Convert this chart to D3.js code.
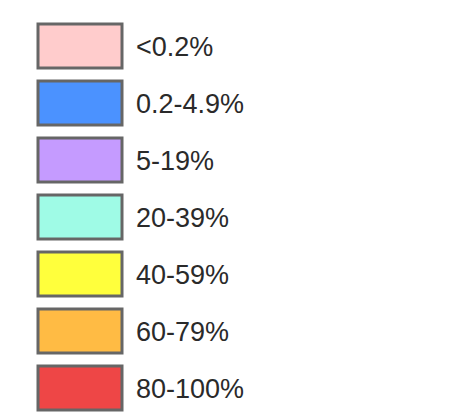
<!DOCTYPE html>
<html>
<head>
<meta charset="utf-8">
<script src="https://cdn.jsdelivr.net/npm/d3@7"></script>
<style>
  body { margin: 0; background: #fff; }
</style>
</head>
<body>
<div id="legend"></div>
<script>
const labels = ["<0.2%", "0.2-4.9%", "5-19%", "20-39%", "40-59%", "60-79%", "80-100%"];
const colors = ["#ffcccc", "#4b92ff", "#c59bff", "#9ffbe6", "#ffff3c", "#ffbb44", "#ee4646"];

const width = 465, height = 416;

const svg = d3.select("#legend").append("svg")
    .attr("width", width)
    .attr("height", height)
    .style("font", "27px Arial, 'Liberation Sans', sans-serif");

// rows 57px apart, boxes 44px tall, first at y=24
const y = d3.scaleBand()
    .domain(labels)
    .range([24, 24 + 57 * labels.length - 13])
    .paddingInner(13 / 57)
    .paddingOuter(0);

const color = d3.scaleOrdinal().domain(labels).range(colors);

const row = svg.selectAll("g")
    .data(labels)
    .join("g")
    .attr("transform", d => `translate(0,${y(d)})`);

row.append("rect")
    .attr("x", 38)
    .attr("width", 84)
    .attr("height", y.bandwidth())
    .attr("fill", d => color(d))
    .attr("stroke", "#666")
    .attr("stroke-width", 3);

row.append("text")
    .attr("x", 136)
    .attr("y", y.bandwidth() / 2)
    .attr("dy", "0.36em")
    .attr("fill", "#2a2a2a")
    .text(d => d);
</script>
</body>
</html>
